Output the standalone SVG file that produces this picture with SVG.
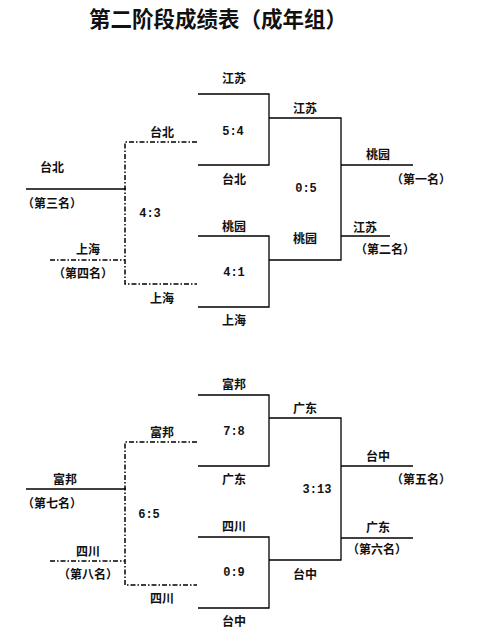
<svg xmlns="http://www.w3.org/2000/svg" width="479" height="632" viewBox="0 0 479 632">
<style>
.t{font-family:"Noto Sans CJK SC","Noto Sans",sans-serif;font-size:12px;font-weight:600;fill:#111;text-anchor:middle;dominant-baseline:central}
.s{font-family:"Liberation Mono","DejaVu Sans Mono",monospace;font-size:12px;font-weight:bold;fill:#111;text-anchor:middle;dominant-baseline:central}
.title{font-family:"Noto Sans CJK SC","Noto Sans",sans-serif;font-size:21.5px;font-weight:bold;fill:#111;text-anchor:middle;dominant-baseline:central}
.ln{fill:none;stroke:#000;stroke-width:1.3}
.dl{fill:none;stroke:#000;stroke-width:1.5;stroke-dasharray:5 2 1.5 2}
</style>
<rect width="479" height="632" fill="#fff"/>
<text class="title" x="218" y="17">第二阶段成绩表（成年组）</text>
<g id="connectors">
<path class="ln" d="M26 189H126"/>
<path class="dl" d="M197 142H125V284H197"/>
<path class="dl" d="M50 260H125"/>
<path class="ln" d="M198 94H269V165H198"/>
<path class="ln" d="M198 236H269V307H198"/>
<path class="ln" d="M269 118H341V260H269"/>
<path class="ln" d="M341 165H413"/>
<path class="ln" d="M341 236H390"/>
<path class="ln" d="M26 489H126"/>
<path class="dl" d="M197 442H125V585H197"/>
<path class="dl" d="M50 561H125"/>
<path class="ln" d="M198 395H269V466H198"/>
<path class="ln" d="M198 537H269V608H198"/>
<path class="ln" d="M269 418H341V560H269"/>
<path class="ln" d="M341 466H413"/>
<path class="ln" d="M341 538H413"/>
</g>
<g id="n-taipei-3"><text class="t" x="52" y="166">台北</text><text class="t" x="52" y="202">（第三名）</text></g>
<g id="n-shanghai-4"><text class="t" x="88" y="248">上海</text><text class="t" x="83" y="272">（第四名）</text></g>
<g id="m-43"><text class="t" x="162" y="131">台北</text><text class="s" x="150" y="214">4:3</text><text class="t" x="162" y="297">上海</text></g>
<g id="m-54"><text class="t" x="234" y="77">江苏</text><text class="s" x="233" y="132">5:4</text><text class="t" x="234" y="178">台北</text></g>
<g id="m-41"><text class="t" x="234" y="225">桃园</text><text class="s" x="234" y="273">4:1</text><text class="t" x="234" y="319">上海</text></g>
<g id="m-05"><text class="t" x="305" y="107">江苏</text><text class="s" x="306" y="189">0:5</text><text class="t" x="305" y="237">桃园</text></g>
<g id="n-first"><text class="t" x="378" y="153">桃园</text><text class="t" x="421" y="178">（第一名）</text></g>
<g id="n-second"><text class="t" x="365" y="226">江苏</text><text class="t" x="385" y="248">（第二名）</text></g>
<g id="n-fubang-7"><text class="t" x="65" y="478">富邦</text><text class="t" x="52" y="502">（第七名）</text></g>
<g id="n-sichuan-8"><text class="t" x="88" y="550">四川</text><text class="t" x="88" y="573">（第八名）</text></g>
<g id="m-65"><text class="t" x="162" y="431">富邦</text><text class="s" x="149" y="515">6:5</text><text class="t" x="162" y="597">四川</text></g>
<g id="m-78"><text class="t" x="234" y="383">富邦</text><text class="s" x="234" y="432">7:8</text><text class="t" x="234" y="478">广东</text></g>
<g id="m-09"><text class="t" x="234" y="525">四川</text><text class="s" x="234" y="573">0:9</text><text class="t" x="234" y="620">台中</text></g>
<g id="m-313"><text class="t" x="305" y="407">广东</text><text class="s" x="317" y="490">3:13</text><text class="t" x="305" y="573">台中</text></g>
<g id="n-fifth"><text class="t" x="378" y="455">台中</text><text class="t" x="421" y="478">（第五名）</text></g>
<g id="n-sixth"><text class="t" x="378" y="526">广东</text><text class="t" x="377" y="548">（第六名）</text></g>
</svg>
